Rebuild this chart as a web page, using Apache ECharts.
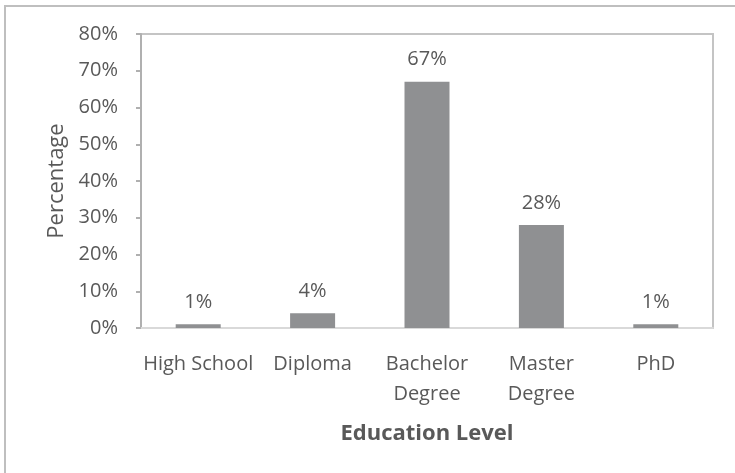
<!DOCTYPE html>
<html>
<head>
<meta charset="utf-8">
<script src="https://cdn.jsdelivr.net/npm/echarts@6/dist/echarts.min.js"></script>
<style>
  html, body { margin: 0; padding: 0; background: #fff; }
  #chart { width: 735px; height: 473px; }
</style>
</head>
<body>
<div id="chart"></div>
<script>
// Share of respondents by highest education level (percent)
const categories = ['High School', 'Diploma', 'Bachelor\nDegree', 'Master\nDegree', 'PhD'];
const shares = [1, 4, 67, 28, 1];
const yTicks = { min: 0, max: 80, interval: 10 };

const font = '"Open Sans", "Noto Sans", sans-serif';
const textColor = '#595959';

const chart = echarts.init(document.getElementById('chart'), null, { renderer: 'canvas' });
chart.setOption({
  backgroundColor: '#ffffff',
  animation: false,
  graphic: [{
    type: 'rect',
    shape: { x: 5, y: 6, width: 900, height: 900 },
    style: { fill: 'none', stroke: '#bfbfbf', lineWidth: 2 },
    silent: true
  }],
  grid: {
    left: 141, right: 22, top: 34, bottom: 145,
    show: true, borderColor: '#c4c4c4', borderWidth: 2, backgroundColor: 'transparent'
  },
  xAxis: {
    type: 'category',
    data: categories,
    axisLine: { lineStyle: { color: '#d9d9d9', width: 2 } },
    axisTick: { show: false },
    axisLabel: { color: textColor, fontFamily: font, fontSize: 20, lineHeight: 30, margin: 21, interval: 0 },
    name: 'Education Level',
    nameLocation: 'middle',
    nameGap: 95,
    nameTextStyle: { color: textColor, fontFamily: font, fontSize: 22, fontWeight: 'bold' }
  },
  yAxis: {
    type: 'value',
    min: yTicks.min, max: yTicks.max, interval: yTicks.interval,
    splitLine: { show: false },
    axisLine: { show: true, lineStyle: { color: '#b0b0b0', width: 2 } },
    axisTick: { show: true, length: 5, lineStyle: { color: '#b0b0b0', width: 2 } },
    axisLabel: { color: textColor, fontFamily: font, fontSize: 20, margin: 23, formatter: v => v + '%' },
    name: 'Percentage',
    nameLocation: 'middle',
    nameGap: 73,
    nameTextStyle: { color: textColor, fontFamily: font, fontSize: 22 }
  },
  series: [{
    type: 'bar',
    data: shares,
    barWidth: 45,
    itemStyle: { color: '#8f9092' },
    label: {
      show: true, position: 'top', distance: 12,
      color: textColor, fontFamily: font, fontSize: 20,
      formatter: p => p.value + '%'
    }
  }]
});
</script>
</body>
</html>
